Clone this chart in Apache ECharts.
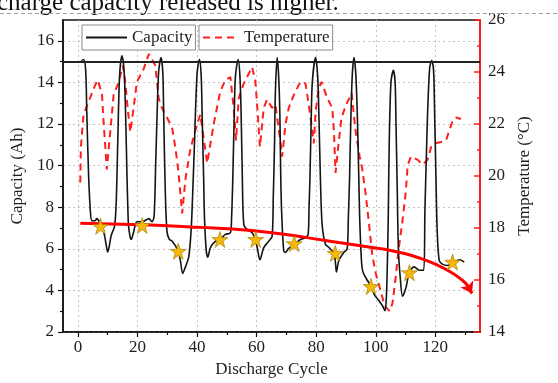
<!DOCTYPE html>
<html><head><meta charset="utf-8">
<script src="https://cdn.jsdelivr.net/npm/echarts@6/dist/echarts.min.js"></script>
<style>html,body{margin:0;padding:0;background:#fff}#c{width:558px;height:383px}</style>
</head><body><div id="c"></div>
<script>
// ---- data ----
const capacityX = [0.8,1.9,2.6,3.0,3.6,4.2,4.7,5.8,6.3,7.0,8.1,9.0,9.6,10.0,10.5,11.2,12.3,12.8,13.1,13.6,13.9,14.3,14.8,15.3,15.7,16.1,16.5,16.8,17.0,17.5,17.9,18.7,19.8,21.7,23.0,23.8,24.9,25.6,26.1,26.6,27.1,27.9,28.5,28.8,29.3,29.9,30.7,31.6,33.5,34.4,35.2,36.1,37.2,38.0,38.5,39.1,40.0,40.8,41.4,41.7,42.2,42.5,43.1,43.6,44.5,46.2,47.8,49.5,51.2,51.6,52.0,52.5,52.9,53.8,54.4,54.8,55.2,55.7,56.8,58.5,59.6,60.4,61.1,62.4,64.1,65.2,65.6,66.0,66.3,66.9,67.4,67.8,68.1,68.4,69.1,69.7,70.6,72.8,74.7,76.4,77.3,77.6,77.9,78.3,78.7,79.8,80.5,80.9,81.4,82.0,83.1,84.3,86.0,86.5,86.8,87.6,89.3,90.4,90.8,91.2,91.6,92.1,92.7,93.3,93.8,94.3,94.6,95.2,95.7,97.1,98.5,99.5,101.2,102.3,103.1,103.5,103.8,104.2,104.5,105.1,105.9,106.5,106.8,107.2,107.6,108.2,109.0,110.1,111.3,112.9,114.6,116.1,116.5,117.0,117.4,118.1,118.8,119.4,119.7,120.2,120.6,121.3,122.5,124.1,126.4,128.1,129.7];
const capacityY = [14.97,15.1,14.6,12.5,9.5,7.8,7.35,7.35,7.45,7.35,7.08,6.6,6.1,5.85,6.1,6.65,7.08,8.0,9.4,12.5,14.0,14.9,15.28,14.9,14.0,12.0,9.4,7.8,7.1,6.6,6.45,6.8,7.3,7.3,7.4,7.45,7.3,7.6,10.0,12.5,14.5,15.2,14.5,12.5,9.0,6.84,6.45,6.37,5.95,5.44,4.81,5.13,5.6,6.84,8.5,10.9,14.4,15.1,14.3,12.5,9.5,7.5,5.9,5.6,6.06,6.37,6.45,6.69,6.77,7.5,9.35,12.5,14.3,15.1,14.3,12.5,9.5,7.16,6.92,6.77,6.45,5.9,5.47,6.06,6.37,6.6,8.5,10.9,13.5,15.2,14.3,12.5,9.5,7.78,5.9,5.83,6.0,6.22,6.45,6.53,6.69,8.0,9.35,12.0,14.0,15.2,14.3,12.5,9.5,7.16,6.22,6.06,5.78,5.28,4.89,5.44,5.83,6.0,7.5,9.35,12.0,14.3,15.2,14.4,12.5,9.5,7.5,5.44,4.89,4.5,4.19,3.8,3.48,3.25,3.02,3.5,4.66,7.5,10.9,14.0,14.58,14.0,12.0,9.0,6.0,4.66,3.72,4.11,4.89,5.13,4.97,4.97,7.78,10.5,12.5,14.7,15.05,14.6,13.0,9.5,7.0,5.44,5.25,5.2,5.36,5.47,5.36];
const temperatureX = [0.8,1.0,1.9,3.0,4.1,5.8,6.7,8.1,8.6,9.2,9.7,10.9,12.0,13.7,15.1,15.9,16.7,17.6,18.7,19.8,22.1,23.8,24.8,26.0,27.1,28.2,29.9,31.6,32.7,33.8,35.0,36.1,37.7,39.4,41.1,43.4,45.6,47.8,49.5,51.2,52.3,53.1,54.0,55.7,58.5,59.6,60.4,61.1,62.4,63.5,65.2,66.3,67.5,68.6,69.7,70.8,72.5,74.7,76.4,77.5,78.4,79.2,79.8,80.9,81.8,83.7,85.4,86.0,86.5,87.4,88.5,90.1,91.9,93.2,94.6,95.5,96.6,97.7,98.8,99.9,101.6,103.0,104.7,105.6,106.6,107.6,109.0,110.1,110.7,111.8,114.1,115.7,117.4,118.6,119.7,121.9,123.6,124.7,125.8,127.0,128.6];
const temperatureY = [19.75,21.1,22.37,22.69,23.0,23.5,23.69,23.12,22.12,21.12,20.25,21.75,23.12,23.62,24.25,23.62,22.62,21.69,22.62,23.62,24.12,24.69,24.5,24.25,23.0,22.62,22.25,21.87,21.12,20.12,18.56,19.87,21.0,21.75,22.37,20.5,22.0,23.25,23.69,23.8,22.62,21.37,23.0,23.56,24.19,23.62,22.37,21.12,22.62,22.94,22.62,22.75,21.75,20.75,22.0,22.62,23.12,23.62,23.56,22.75,22.0,21.25,22.5,23.37,23.62,23.0,22.62,21.62,20.12,21.12,22.25,22.75,23.19,21.75,20.75,20.25,19.3,18.2,17.0,16.3,15.6,15.0,14.8,15.1,16.0,17.1,18.3,19.4,20.4,20.75,20.62,20.44,20.62,21.12,21.25,21.31,21.37,21.75,22.12,22.25,22.19];
const starX = [7.6,21.6,33.7,47.7,59.7,72.6,86.4,98.4,111.3,125.8];
const starY = [7.08,7.12,5.88,6.45,6.45,6.25,5.78,4.19,4.85,5.36];
const trendX = [0.8,15,30,41,52,63,76.4,87.6,98.8,105,110,115,120,125,129,131];
const trendY = [7.23,7.18,7.11,7.03,6.95,6.81,6.55,6.3,6.06,5.92,5.76,5.54,5.26,4.9,4.5,4.2];
const arrowX = [131,132.3];
const arrowY = [4.2,3.85];
const capacityLimit = 15;
const xMajorTicks = [0,20,40,60,80,100,120];
const xMinorTicks = [10,30,50,70,90,110,130];
const capMajorTicks = [2,4,6,8,10,12,14,16];
const capMinorTicks = [3,5,7,9,11,13,15];
const headText = 'charge capacity released is higher.';

const zip = (a, b) => a.map((v, i) => [v, b[i]]);
const FONT = "'Liberation Serif','Times New Roman',serif";
const TXT = '#1e1e1e';
const STAR = 'path://M50,2 L61.5,37 L98,37 L68.5,58.5 L79.5,94 L50,72 L20.5,94 L31.5,58.5 L2,37 L38.5,37 Z';

const chart = echarts.init(document.getElementById('c'), null, {renderer: 'canvas'});
chart.setOption({
  animation: false,
  backgroundColor: '#fff',
  textStyle: {fontFamily: FONT},
  grid: {left: 63, right: 78, top: 20, bottom: 43, show: true, borderColor: '#111', borderWidth: 1.5, backgroundColor: 'transparent'},
  graphic: [
    {type: 'text', left: -3, top: -9, z: 10, style: {text: headText, font: "25px 'Liberation Serif'", fill: '#111'}},
    {type: 'line', z: 10, shape: {x1: 0, y1: 13.5, x2: 558, y2: 13.5}, style: {stroke: '#a0a0a0', lineWidth: 1, lineDash: [4, 3]}}
  ],
  legend: [
    {data: ['Capacity'], left: 82, top: 25, orient: 'horizontal', padding: [4, 3], itemWidth: 41, itemHeight: 14, itemGap: 5,
     itemStyle: {opacity: 0}, backgroundColor: '#fff', borderColor: '#8a8a8a', borderWidth: 1, textStyle: {fontFamily: FONT, fontSize: 17, color: TXT}},
    {data: ['Temperature'], left: 199, top: 25, orient: 'horizontal', padding: [4, 3], itemWidth: 36, itemHeight: 14, itemGap: 5,
     itemStyle: {opacity: 0}, backgroundColor: '#fff', borderColor: '#8a8a8a', borderWidth: 1, textStyle: {fontFamily: FONT, fontSize: 17, color: TXT}}
  ],
  xAxis: [
    {type: 'value', min: -5, max: 135, position: 'bottom',
     name: 'Discharge Cycle', nameLocation: 'middle', nameGap: 29,
     nameTextStyle: {fontFamily: FONT, fontSize: 17, color: TXT},
     axisLine: {onZero: false, lineStyle: {color: '#111', width: 1.5}},
     axisTick: {customValues: xMajorTicks, length: 5, lineStyle: {color: '#111', width: 1.2}},
     axisLabel: {customValues: xMajorTicks, margin: 7, fontFamily: FONT, fontSize: 17, color: TXT},
     splitLine: {show: true, lineStyle: {color: '#c4c4c4', type: [2, 3], width: 1}}},
    {type: 'value', min: -5, max: 135, position: 'bottom',
     axisLine: {show: false, onZero: false}, axisLabel: {show: false}, splitLine: {show: false},
     axisTick: {customValues: xMinorTicks, length: 3, lineStyle: {color: '#111', width: 1.2}}}
  ],
  yAxis: [
    {type: 'value', min: 2, max: 17, position: 'left',
     name: 'Capacity (Ah)', nameLocation: 'middle', nameGap: 29, nameRotate: 90,
     nameTextStyle: {fontFamily: FONT, fontSize: 17, color: TXT},
     axisLine: {show: true, onZero: false, lineStyle: {color: '#111', width: 1.5}},
     axisTick: {customValues: capMajorTicks, length: 5, lineStyle: {color: '#111', width: 1.2}},
     axisLabel: {customValues: capMajorTicks, margin: 9, fontFamily: FONT, fontSize: 17, color: TXT},
     splitLine: {show: true, lineStyle: {color: '#c4c4c4', type: [2, 3], width: 1}}},
    {type: 'value', min: 14, max: 26, interval: 2, position: 'right',
     name: 'Temperature (°C)', nameLocation: 'middle', nameGap: 27, nameRotate: 90,
     nameTextStyle: {fontFamily: FONT, fontSize: 17, color: TXT},
     axisLine: {show: true, onZero: false, lineStyle: {color: '#ff1e1e', width: 2}},
     axisTick: {inside: true, length: 6, lineStyle: {color: '#ff1e1e', width: 1.5}},
     minorTick: {show: true, splitNumber: 2, length: 3, lineStyle: {color: '#ff1e1e', width: 1.5}},
     axisLabel: {margin: 8, fontFamily: FONT, fontSize: 17, color: TXT},
     splitLine: {show: false}},
    {type: 'value', min: 2, max: 17, position: 'left',
     axisLine: {show: false, onZero: false}, axisLabel: {show: false}, splitLine: {show: false},
     axisTick: {customValues: capMinorTicks, length: 3, lineStyle: {color: '#111', width: 1.2}}}
  ],
  series: [
    {name: 'Capacity', type: 'line', xAxisIndex: 0, yAxisIndex: 0, data: zip(capacityX, capacityY),
     smooth: 0.3, symbol: 'none', z: 3,
     itemStyle: {color: '#141414'}, lineStyle: {color: '#141414', width: 1.6},
     markLine: {silent: true, symbol: 'none', label: {show: false},
       lineStyle: {color: '#222', width: 2, type: 'solid'}, data: [{yAxis: capacityLimit}]}},
    {name: 'Temperature', type: 'line', xAxisIndex: 0, yAxisIndex: 1, data: zip(temperatureX, temperatureY),
     symbol: 'none', z: 2,
     itemStyle: {color: '#ff1e1e'}, lineStyle: {color: '#ff1e1e', width: 2, type: [7, 5]}},
    {name: 'Trend', type: 'line', xAxisIndex: 0, yAxisIndex: 0, data: zip(trendX, trendY),
     smooth: true, symbol: 'none', z: 4, lineStyle: {color: '#ff0000', width: 3}},
    {name: 'TrendArrow', type: 'lines', coordinateSystem: 'cartesian2d', xAxisIndex: 0, yAxisIndex: 0, z: 4,
     symbol: ['none', 'arrow'], symbolSize: 11,
     lineStyle: {color: '#ff0000', width: 3, opacity: 1},
     data: [{coords: zip(arrowX, arrowY)}]},
    {name: 'Points', type: 'scatter', xAxisIndex: 0, yAxisIndex: 0, data: zip(starX, starY),
     symbol: STAR, symbolSize: 16, z: 5,
     itemStyle: {color: '#f5b80a', borderColor: '#9a7400', borderWidth: 0.6, opacity: 1}}
  ]
});
</script></body></html>
